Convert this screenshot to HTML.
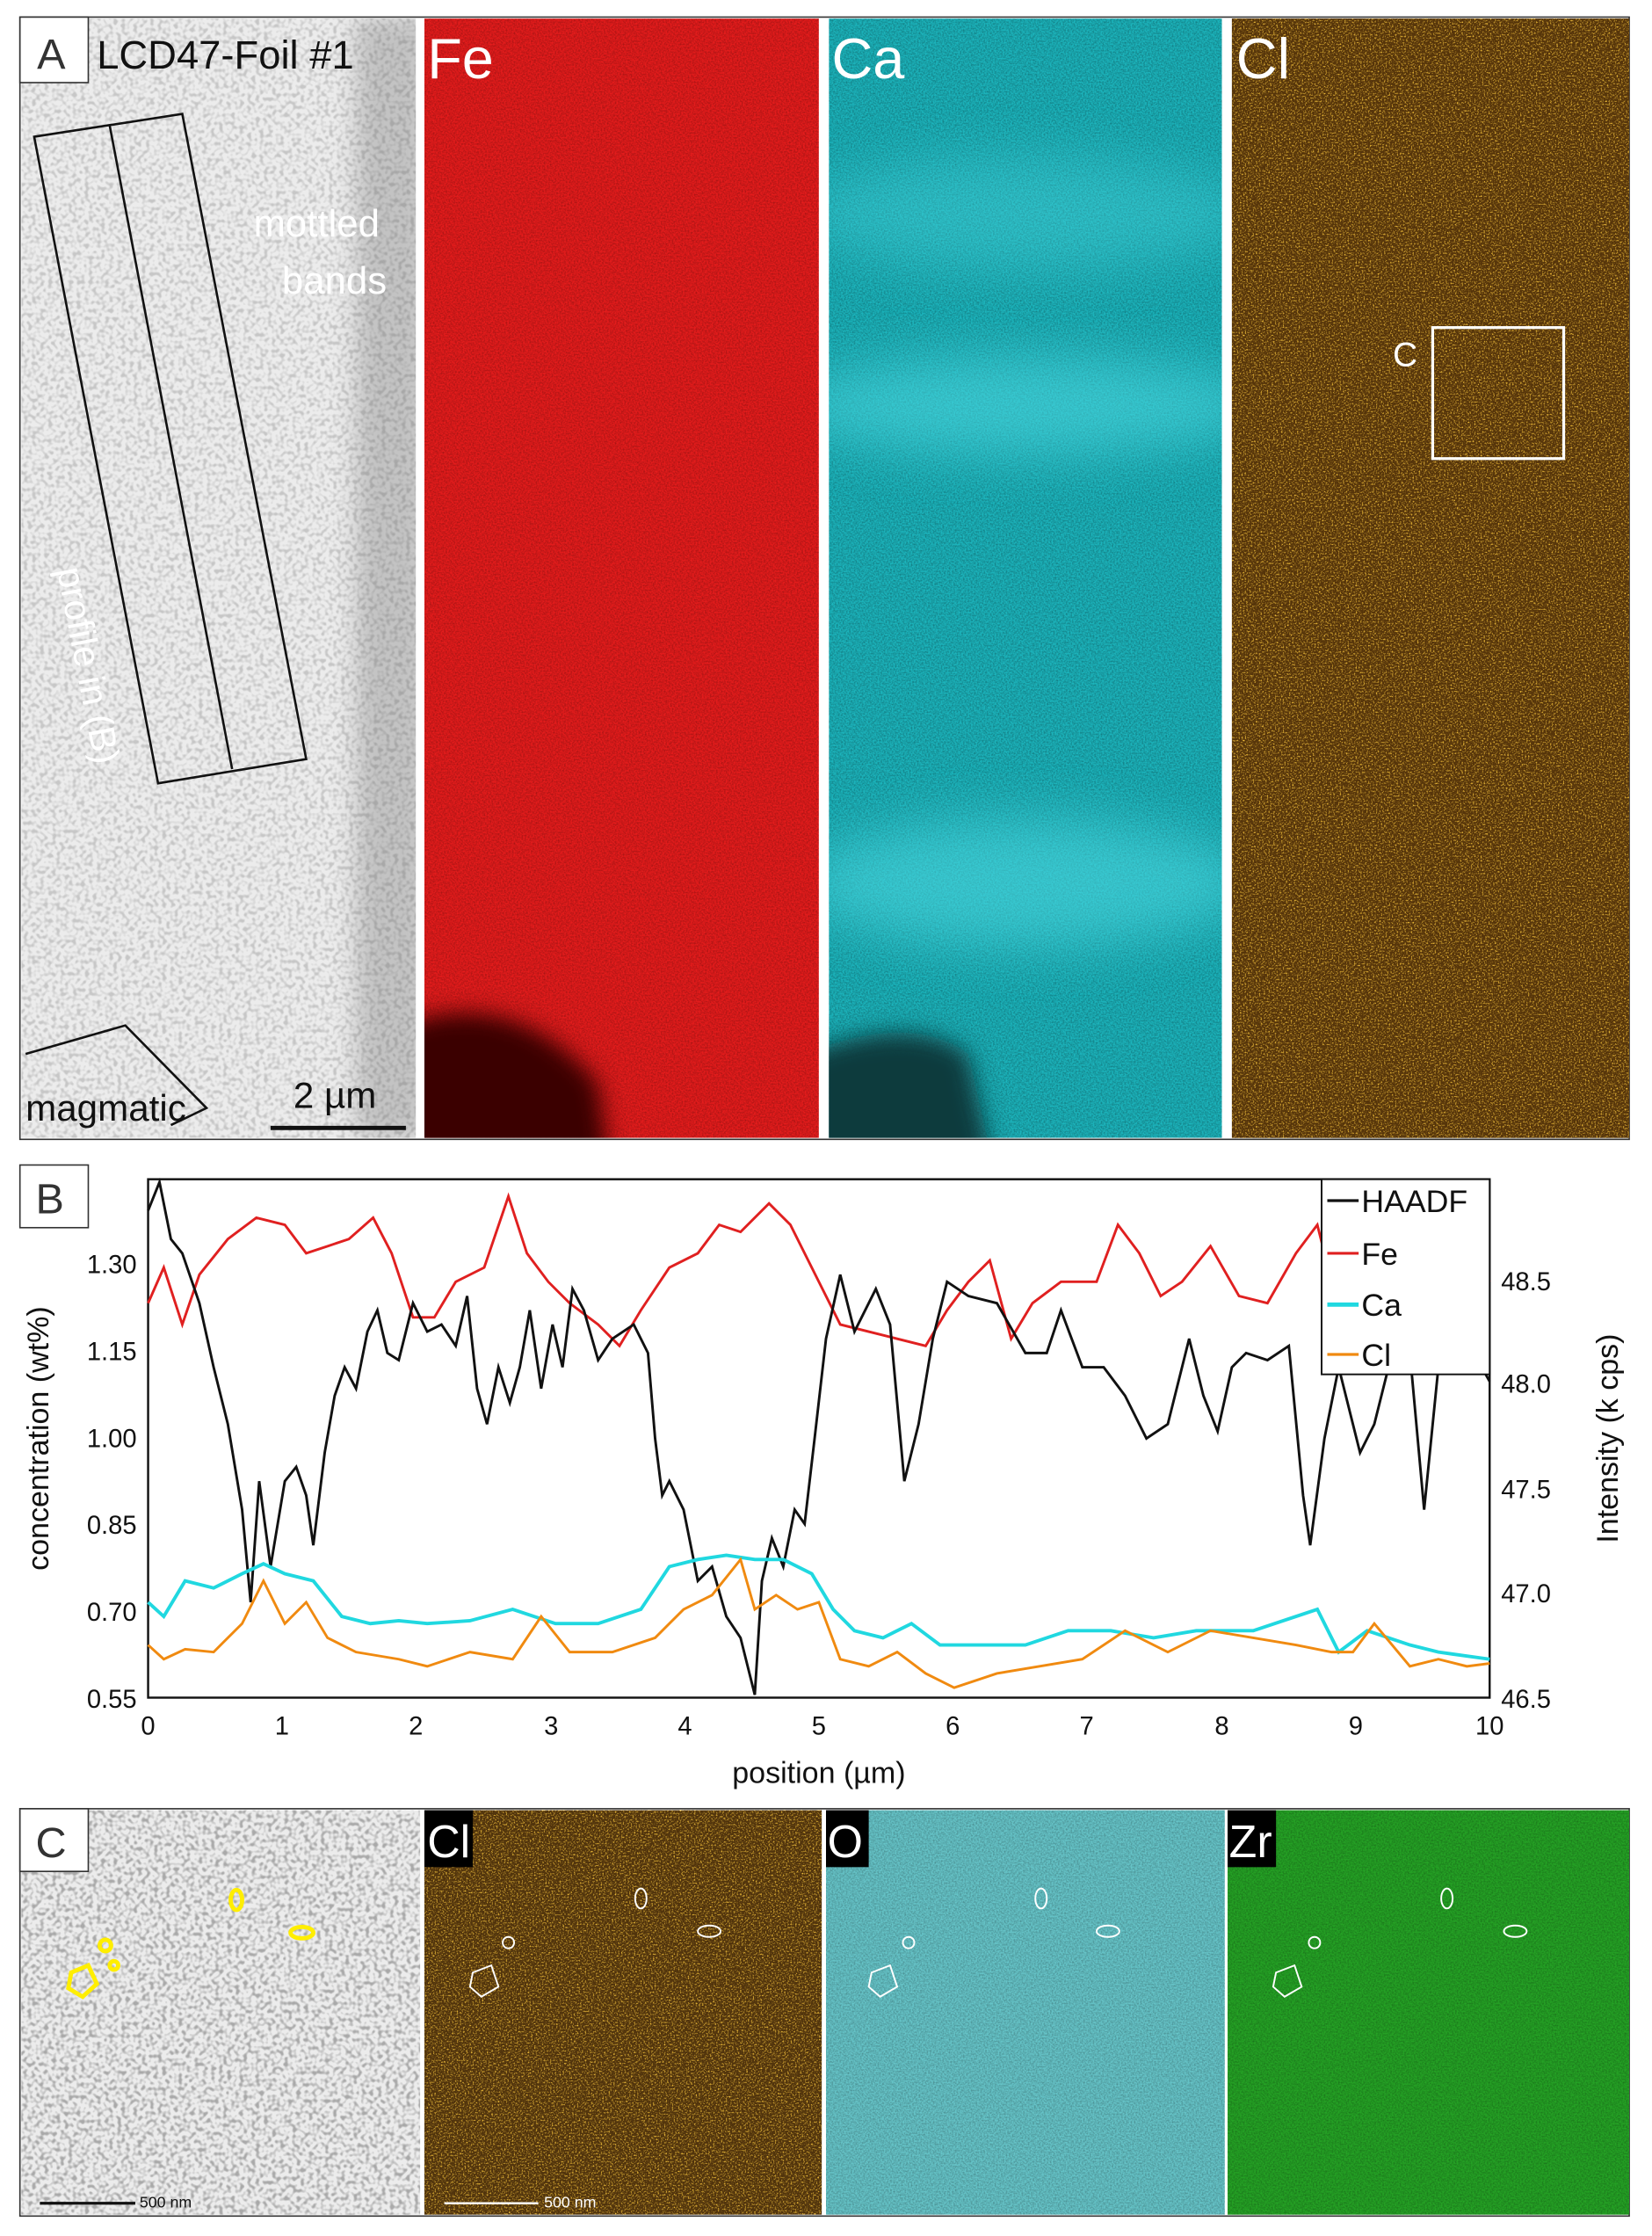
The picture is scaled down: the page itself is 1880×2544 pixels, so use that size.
<!DOCTYPE html>
<html><head><meta charset="utf-8"><style>
html,body{margin:0;padding:0;background:#fff}
svg{display:block}
text{font-family:"Liberation Sans",Arial,sans-serif}
</style></head><body>
<svg width="1880" height="2544" viewBox="0 0 1160 1570" preserveAspectRatio="none" xmlns="http://www.w3.org/2000/svg">
<defs>
<filter id="nz" x="0" y="0" width="100%" height="100%">
<feTurbulence type="fractalNoise" baseFrequency="0.9" numOctaves="2" seed="3"/>
<feColorMatrix type="matrix" values="0 0 0 0 0  0 0 0 0 0  0 0 0 0 0  0 0 0 -1.6 1.1"/>
<feComposite in2="SourceGraphic" operator="in"/>
</filter>
<filter id="nzl" x="0" y="0" width="100%" height="100%">
<feTurbulence type="fractalNoise" baseFrequency="0.9" numOctaves="2" seed="7"/>
<feColorMatrix type="matrix" values="0 0 0 0 1  0 0 0 0 0.6  0 0 0 0 0.05  0 0 0 2.8 -1.4"/>
<feComposite in2="SourceGraphic" operator="in"/>
</filter>
<filter id="dots" x="0" y="0" width="100%" height="100%">
<feTurbulence type="fractalNoise" baseFrequency="0.35" numOctaves="1" seed="11"/>
<feColorMatrix type="matrix" values="0 0 0 0 0.1  0 0 0 0 0.1  0 0 0 0 0.1  0 0 0 -4 2.2"/>
<feComposite in2="SourceGraphic" operator="in"/>
</filter>
<filter id="bl" x="-50%" y="-50%" width="200%" height="200%"><feGaussianBlur stdDeviation="18"/></filter>
<filter id="bl2" x="-50%" y="-50%" width="200%" height="200%"><feGaussianBlur stdDeviation="8"/></filter>
<clipPath id="cg"><rect x="15" y="13" width="277" height="786"/></clipPath>
<clipPath id="cf"><rect x="298" y="13" width="277" height="786"/></clipPath>
<clipPath id="cc"><rect x="582" y="13" width="276" height="786"/></clipPath>
</defs>

<!-- Panel A -->
<rect x="14" y="12" width="1130" height="788" fill="#fff" stroke="#333" stroke-width="1"/>
<g clip-path="url(#cg)">
<rect x="15" y="13" width="277" height="786" fill="#ececec"/>
<rect x="250" y="13" width="50" height="786" fill="#999" opacity="0.5" filter="url(#bl2)"/>
<rect x="15" y="13" width="277" height="786" fill="#000" filter="url(#dots)" opacity="0.25"/>
</g>
<g clip-path="url(#cf)">
<rect x="298" y="13" width="277" height="786" fill="#e41c1c"/>
<rect x="298" y="13" width="277" height="786" fill="#000" filter="url(#nz)" opacity="0.3"/>
<path d="M280 720 Q360 690 420 760 L430 830 L280 830Z" fill="#3a0505" filter="url(#bl2)"/>
</g>
<g clip-path="url(#cc)">
<rect x="582" y="13" width="276" height="786" fill="#1cb4bc"/>
<rect x="582" y="13" width="276" height="786" fill="#000" filter="url(#nz)" opacity="0.35"/>
<ellipse cx="720" cy="150" rx="160" ry="40" fill="#50dce4" opacity="0.35" filter="url(#bl)"/>
<ellipse cx="720" cy="285" rx="170" ry="35" fill="#50dce4" opacity="0.55" filter="url(#bl)"/>
<ellipse cx="720" cy="620" rx="160" ry="45" fill="#50dce4" opacity="0.55" filter="url(#bl)"/>
<path d="M565 740 Q640 710 680 740 L700 830 L565 830Z" fill="#0d3a3e" filter="url(#bl2)"/>
</g>
<rect x="865" y="13" width="279" height="786" fill="#55340a"/>
<rect x="865" y="13" width="279" height="786" fill="#fff" filter="url(#nzl)"/>
<rect x="1006" y="230" width="92" height="92" fill="none" stroke="#fff" stroke-width="2"/>
<text x="978" y="257" font-size="24" fill="#fff">C</text>
<rect x="14" y="12" width="48" height="46" fill="#fff" stroke="#333"/>
<text x="26" y="48" font-size="30" fill="#333">A</text>
<text x="68" y="48" font-size="28" fill="#111">LCD47-Foil #1</text>
<text x="300" y="55" font-size="40" fill="#fff">Fe</text>
<text x="584" y="55" font-size="40" fill="#fff">Ca</text>
<text x="868" y="55" font-size="40" fill="#fff">Cl</text>
<text x="178" y="166" font-size="27" fill="#fff">mottled</text>
<text x="198" y="206" font-size="27" fill="#fff">bands</text>
<polygon points="24,96 128,80 215,533 111,550" fill="none" stroke="#111" stroke-width="1.6"/>
<line x1="77" y1="88" x2="163" y2="540" stroke="#111" stroke-width="1.6"/>
<text transform="translate(40,400) rotate(79)" font-size="26" fill="#fff">profile in (B)</text>
<polyline points="18,740 88,720 145,778 120,790" fill="none" stroke="#111" stroke-width="1.6"/>
<text x="18" y="787" font-size="26" fill="#111">magmatic</text>
<line x1="190" y1="792" x2="285" y2="792" stroke="#111" stroke-width="3"/>
<text x="206" y="778" font-size="26" fill="#111">2 µm</text>

<!-- Panel B -->
<rect x="14" y="818" width="48" height="44" fill="#fff" stroke="#333"/>
<text x="25" y="852" font-size="30" fill="#333">B</text>
<rect x="104" y="828" width="942" height="364" fill="none" stroke="#111" stroke-width="1.5"/>
<g font-size="18" fill="#111">
<text x="96" y="894" text-anchor="end">1.30</text>
<text x="96" y="955" text-anchor="end">1.15</text>
<text x="96" y="1016" text-anchor="end">1.00</text>
<text x="96" y="1077" text-anchor="end">0.85</text>
<text x="96" y="1138" text-anchor="end">0.70</text>
<text x="96" y="1199" text-anchor="end">0.55</text>
<text x="1054" y="906">48.5</text>
<text x="1054" y="978">48.0</text>
<text x="1054" y="1052">47.5</text>
<text x="1054" y="1125">47.0</text>
<text x="1054" y="1199">46.5</text>
<text x="104" y="1218" text-anchor="middle">0</text><text x="198" y="1218" text-anchor="middle">1</text><text x="292" y="1218" text-anchor="middle">2</text><text x="387" y="1218" text-anchor="middle">3</text><text x="481" y="1218" text-anchor="middle">4</text><text x="575" y="1218" text-anchor="middle">5</text><text x="669" y="1218" text-anchor="middle">6</text><text x="763" y="1218" text-anchor="middle">7</text><text x="858" y="1218" text-anchor="middle">8</text><text x="952" y="1218" text-anchor="middle">9</text><text x="1046" y="1218" text-anchor="middle">10</text>
</g>
<text x="575" y="1252" font-size="21" text-anchor="middle" fill="#111">position (µm)</text>
<text transform="translate(34,1010) rotate(-90)" font-size="21" text-anchor="middle" fill="#111">concentration (wt%)</text>
<text transform="translate(1136,1010) rotate(-90)" font-size="21" text-anchor="middle" fill="#111">Intensity (k cps)</text>
<g fill="none" stroke-width="1.8">
<polyline stroke="#e02020" points="104,915 115,890 128,930 140,895 160,870 180,855 200,860 215,880 230,875 245,870 262,855 275,880 290,925 305,925 320,900 340,890 357,840 370,880 385,900 400,915 420,930 435,945 450,920 470,890 490,880 505,860 520,865 540,845 555,860 575,900 590,930 610,935 630,940 650,945 665,920 680,900 695,885 710,940 725,915 745,900 770,900 785,860 800,880 815,910 830,900 850,875 870,910 890,915 910,880 925,860 935,900 950,880 960,850 975,900 990,870 1010,850 1030,870 1046,900"/>
<polyline stroke="#111" points="104,850 112,830 120,870 128,880 140,915 150,960 160,1000 170,1060 176,1125 182,1040 190,1100 200,1040 208,1030 215,1050 220,1085 228,1020 235,980 242,960 250,975 258,935 265,920 272,950 280,955 290,915 300,935 310,930 320,945 328,910 335,975 342,1000 350,960 358,985 365,960 372,920 380,975 388,930 395,960 402,905 410,920 420,955 430,940 445,930 455,950 460,1010 465,1050 470,1040 480,1060 490,1110 500,1100 510,1135 520,1150 530,1190 535,1110 542,1080 550,1100 558,1060 565,1070 572,1010 580,940 590,895 600,935 615,905 625,930 635,1040 645,1000 655,940 665,900 680,910 700,915 720,950 735,950 745,920 760,960 775,960 790,980 805,1010 820,1000 835,940 845,980 855,1005 865,960 875,950 890,955 905,945 915,1050 920,1085 930,1010 940,960 955,1020 965,1000 975,960 990,950 1000,1060 1010,960 1020,930 1035,950 1046,970"/>
<polyline stroke="#20d8e0" stroke-width="2.4" points="104,1125 115,1135 130,1110 150,1115 170,1105 185,1098 200,1105 220,1110 240,1135 260,1140 280,1138 300,1140 330,1138 360,1130 390,1140 420,1140 450,1130 470,1100 490,1095 510,1092 530,1095 550,1095 570,1105 585,1130 600,1145 620,1150 640,1140 660,1155 690,1155 720,1155 750,1145 780,1145 810,1150 840,1145 880,1145 910,1135 925,1130 940,1160 960,1145 990,1155 1010,1160 1046,1165"/>
<polyline stroke="#f08a10" points="104,1155 115,1165 130,1158 150,1160 170,1140 185,1110 200,1140 215,1125 230,1150 250,1160 280,1165 300,1170 330,1160 360,1165 380,1135 400,1160 430,1160 460,1150 480,1130 500,1120 520,1095 530,1130 545,1120 560,1130 575,1125 590,1165 610,1170 630,1160 650,1175 670,1185 700,1175 730,1170 760,1165 790,1145 820,1160 850,1145 880,1150 910,1155 935,1160 950,1160 965,1140 990,1170 1010,1165 1030,1170 1046,1168"/>
</g>
<rect x="928" y="828" width="118" height="137" fill="#fff" stroke="#111" stroke-width="1.2"/>
<g font-size="22" fill="#111">
<line x1="932" y1="843" x2="954" y2="843" stroke="#111" stroke-width="2"/><text x="956" y="851">HAADF</text>
<line x1="932" y1="880" x2="954" y2="880" stroke="#e02020" stroke-width="2"/><text x="956" y="888">Fe</text>
<line x1="932" y1="916" x2="954" y2="916" stroke="#20d8e0" stroke-width="3"/><text x="956" y="924">Ca</text>
<line x1="932" y1="951" x2="954" y2="951" stroke="#f08a10" stroke-width="2"/><text x="956" y="959">Cl</text>
</g>

<!-- Panel C -->
<rect x="14" y="1270" width="1130" height="286" fill="#fff" stroke="#333"/>
<rect x="15" y="1271" width="280" height="284" fill="#ececec"/>
<rect x="15" y="1271" width="280" height="284" fill="#000" filter="url(#dots)" opacity="0.45"/>
<rect x="298" y="1271" width="279" height="284" fill="#50330c"/>
<rect x="298" y="1271" width="279" height="284" fill="#fff" filter="url(#nzl)"/>
<rect x="580" y="1271" width="280" height="284" fill="#66c4c8"/>
<rect x="580" y="1271" width="280" height="284" fill="#000" filter="url(#nz)" opacity="0.3"/>
<rect x="862" y="1271" width="282" height="284" fill="#25a225"/>
<rect x="862" y="1271" width="282" height="284" fill="#000" filter="url(#nz)" opacity="0.3"/>
<rect x="14" y="1270" width="48" height="44" fill="#fff" stroke="#333"/>
<text x="25" y="1304" font-size="30" fill="#333">C</text>
<rect x="298" y="1271" width="34" height="40" fill="#000"/><text x="300" y="1304" font-size="32" fill="#fff">Cl</text>
<rect x="580" y="1271" width="30" height="40" fill="#000"/><text x="581" y="1304" font-size="32" fill="#fff">O</text>
<rect x="862" y="1271" width="34" height="40" fill="#000"/><text x="863" y="1304" font-size="32" fill="#fff">Zr</text>
<g fill="none" stroke="#ffee00" stroke-width="3">
<polygon points="50,1385 62,1380 68,1393 58,1402 48,1396"/><ellipse cx="166" cy="1334" rx="4" ry="7"/><ellipse cx="212" cy="1357" rx="8" ry="4"/><circle cx="74" cy="1366" r="4"/><circle cx="80" cy="1380" r="3"/>
</g>
<g fill="none" stroke="#fff" stroke-width="1.2">
<polygon points="332,1385 345,1380 350,1395 338,1402 330,1395"/><ellipse cx="450" cy="1333" rx="4" ry="7"/><ellipse cx="498" cy="1356" rx="8" ry="4"/><circle cx="357" cy="1364" r="4"/>
<polygon points="612,1385 625,1380 630,1395 618,1402 610,1395"/><ellipse cx="731" cy="1333" rx="4" ry="7"/><ellipse cx="778" cy="1356" rx="8" ry="4"/><circle cx="638" cy="1364" r="4"/>
<polygon points="896,1385 909,1380 914,1395 902,1402 894,1395"/><ellipse cx="1016" cy="1333" rx="4" ry="7"/><ellipse cx="1064" cy="1356" rx="8" ry="4"/><circle cx="923" cy="1364" r="4"/>
</g>
<line x1="28" y1="1547" x2="95" y2="1547" stroke="#111" stroke-width="2"/><text x="98" y="1550" font-size="11" fill="#111">500 nm</text>
<line x1="312" y1="1547" x2="378" y2="1547" stroke="#fff" stroke-width="1.5"/><text x="382" y="1550" font-size="11" fill="#fff">500 nm</text>
</svg>
</body></html>
